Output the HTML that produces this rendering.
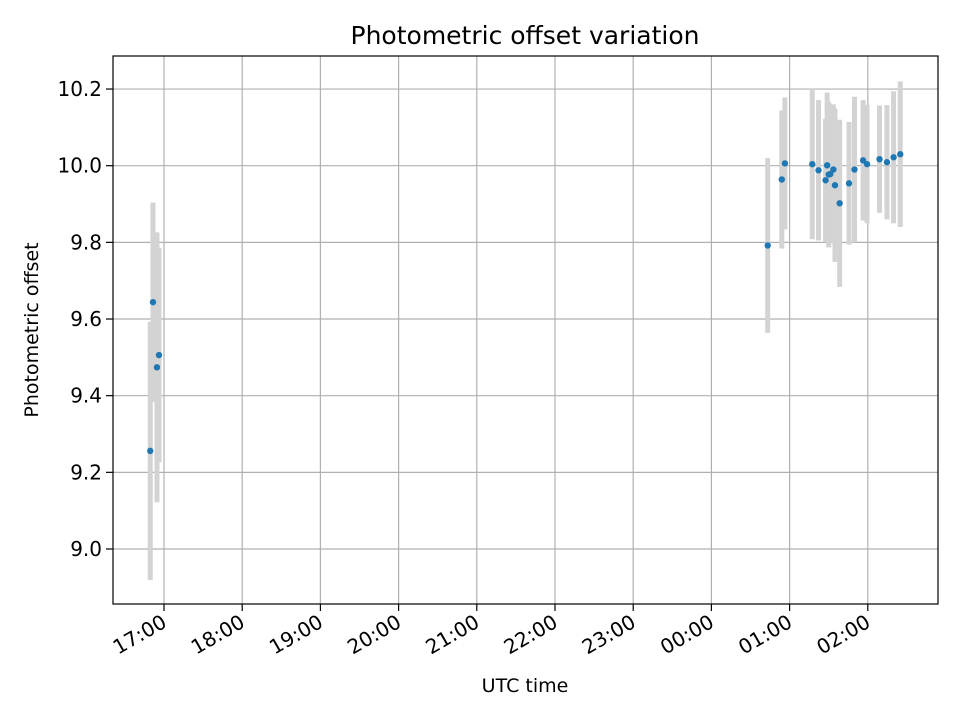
<!DOCTYPE html>
<html><head><meta charset="utf-8"><style>
body{margin:0;background:#fff;}
svg{display:block;font-family:"DejaVu Sans","Liberation Sans",sans-serif;}
</style></head><body>
<svg id="chart" width="960" height="720" xmlns="http://www.w3.org/2000/svg">
<rect width="960" height="720" fill="#fff"/>
<g id="grid"></g>
<g id="bars"></g>
<g id="pts"></g>
<rect x="113" y="56" width="825" height="548" fill="none" stroke="#000" stroke-width="1.2"/>
<g id="ticks"></g>
<text x="525" y="44" font-size="25" text-anchor="middle">Photometric offset variation</text>
<text x="525" y="692" font-size="19" text-anchor="middle">UTC time</text>
<text x="38" y="330" font-size="19" text-anchor="middle" transform="rotate(-90 38 330)">Photometric offset</text>
</svg>
<script>
// time in hours since 00:00 of first day (values past midnight > 24)
const times = [16.824,16.859,16.91,16.936,24.72,24.90,24.94,25.29,25.37,25.46,25.48,25.50,25.52,25.56,25.58,25.64,25.76,25.83,25.94,25.99,26.15,26.245,26.33,26.415];
const values = [9.256,9.644,9.474,9.506,9.792,9.964,10.006,10.004,9.988,9.962,10.001,9.977,9.978,9.99,9.949,9.902,9.954,9.99,10.014,10.004,10.017,10.009,10.022,10.03];
const errors = [0.337,0.26,0.352,0.28,0.228,0.18,0.172,0.196,0.183,0.16,0.19,0.19,0.18,0.17,0.2,0.218,0.16,0.19,0.157,0.154,0.14,0.149,0.172,0.19];
const yTicks = [9.0,9.2,9.4,9.6,9.8,10.0,10.2];
const xTicks = [17,18,19,20,21,22,23,24,25,26];
const xTickLabels = ["17:00","18:00","19:00","20:00","21:00","22:00","23:00","00:00","01:00","02:00"];

const NS="http://www.w3.org/2000/svg";
const X0=113,X1=938,Y0=56,Y1=604;
function xs(h){return 164+(h-17)*78.2;}
function ys(v){return 165.7-(v-10)*383.3;}
function mk(tag,attrs,parent){const e=document.createElementNS(NS,tag);for(const k in attrs)e.setAttribute(k,attrs[k]);parent.appendChild(e);return e;}
const grid=document.getElementById('grid'),ticks=document.getElementById('ticks'),bars=document.getElementById('bars'),pts=document.getElementById('pts');
yTicks.forEach(v=>{
  const y=ys(v);
  const g=mk('line',{x1:X0,x2:X1,y1:y,y2:y,stroke:'#b0b0b0','stroke-width':1.2},grid);
  
  
  const t=mk('line',{x1:X0-7,x2:X0,y1:y,y2:y,stroke:'#000','stroke-width':1.2},ticks);
  
  
  const l=mk('text',{x:X0-11,y:y+7,'font-size':20,'text-anchor':'end'},ticks);
  l.textContent=v.toFixed(1);
  
  
});
xTicks.forEach((h,i)=>{
  const x=xs(h);
  const g=mk('line',{x1:x,x2:x,y1:Y0,y2:Y1,stroke:'#b0b0b0','stroke-width':1.2},grid);
  
  
  const t=mk('line',{x1:x,x2:x,y1:Y1,y2:Y1+7,stroke:'#000','stroke-width':1.2},ticks);
  
  
  const l=mk('text',{x:x+4,y:Y1+22,'font-size':20,'text-anchor':'end',transform:`rotate(-30 ${x+4} ${Y1+22})`},ticks);
  l.textContent=xTickLabels[i];
  
  
});
times.forEach((h,i)=>{
  const x=xs(h);
  const b=mk('line',{x1:x,x2:x,y1:ys(values[i]+errors[i]),y2:ys(values[i]-errors[i]),stroke:'#d3d3d3','stroke-width':5},bars);
  
  
  const c=mk('circle',{cx:x,cy:ys(values[i]),r:3.2,fill:'#1f77b4'},pts);
  
  
});
</script>
</body></html>
